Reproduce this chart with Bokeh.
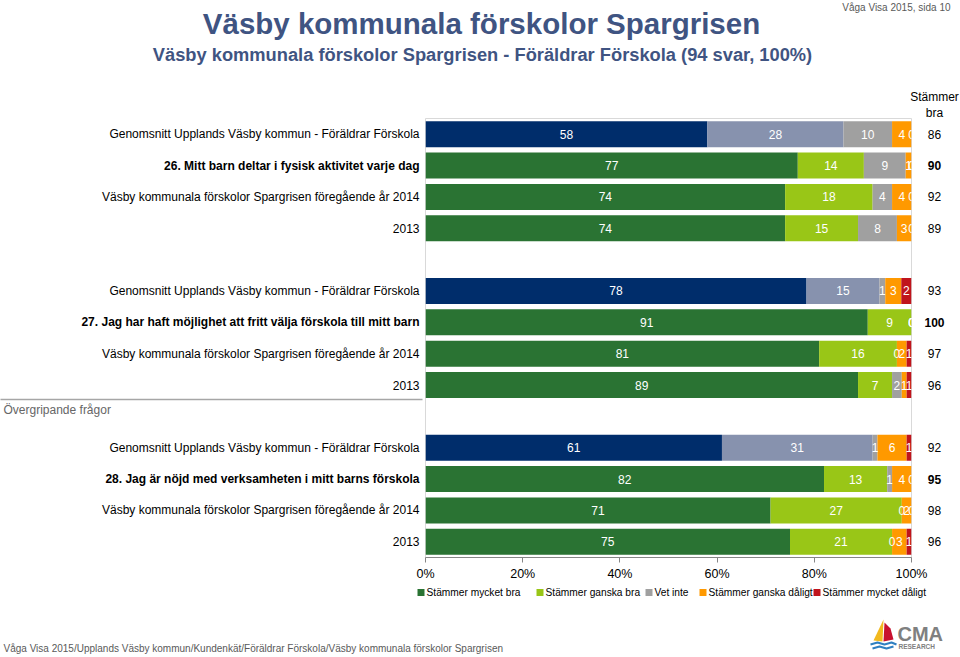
from bokeh.plotting import figure
from bokeh.models import Range1d, FixedTicker, PrintfTickFormatter, ColumnDataSource
from bokeh.core.properties import value
from bokeh.embed import file_html
from bokeh.resources import INLINE

# ---------------- data ----------------
row_labels = [
    "Genomsnitt Upplands Väsby kommun - Föräldrar Förskola",
    "26. Mitt barn deltar i fysisk aktivitet varje dag",
    "Väsby kommunala förskolor Spargrisen föregående år 2014",
    "2013",
    "Genomsnitt Upplands Väsby kommun - Föräldrar Förskola",
    "27. Jag har haft möjlighet att fritt välja förskola till mitt barn",
    "Väsby kommunala förskolor Spargrisen föregående år 2014",
    "2013",
    "Genomsnitt Upplands Väsby kommun - Föräldrar Förskola",
    "28. Jag är nöjd med verksamheten i mitt barns förskola",
    "Väsby kommunala förskolor Spargrisen föregående år 2014",
    "2013",
]
row_kinds = ["avg", "question", "prev", "prev"] * 3

categories = ["Stämmer mycket bra", "Stämmer ganska bra", "Vet inte",
              "Stämmer ganska dåligt", "Stämmer mycket dåligt"]
mycket_bra    = [58, 76.6, 74, 74, 78.4, 91, 81, 89, 61, 82, 71, 75]
ganska_bra    = [28, 13.6, 18, 15, 15.0,  9, 16,  7, 31, 13, 27, 21]
vet_inte      = [10,  8.6,  4,  8,  1.2,  0,  0,  2,  1,  1,  0,  0]
ganska_daligt = [ 4,  1.2,  4,  3,  3.3,  0,  2,  1,  6,  4,  2,  3]
mycket_daligt = [ 0,  0.0,  0,  0,  2.1,  0,  1,  1,  1,  0,  0,  1]
stammer_bra   = [86, 90, 92, 89, 93, 100, 97, 96, 92, 95, 98, 96]

tick_values = [0, 20, 40, 60, 80, 100]
title_text = "Väsby kommunala förskolor Spargrisen"
subtitle_text = "Väsby kommunala förskolor Spargrisen - Föräldrar Förskola (94 svar, 100%)"
page_note = "Våga Visa 2015, sida 10"
footer_text = ("Våga Visa 2015/Upplands Väsby kommun/Kundenkät/Föräldrar Förskola/"
               "Väsby kommunala förskolor Spargrisen")
group_label = "Övergripande frågor"
right_header = ["Stämmer", "bra"]

# ---------------- style ----------------
FONT = "Liberation Sans"
colors_school = ["#2A7333", "#99C617", "#A0A0A0", "#FF9900", "#C0141C"]
colors_avg = ["#002D6B", "#8792AE", "#A0A0A0", "#FF9900", "#C0141C"]
TITLE_COLOR = "#3F5482"
legend_x_px = [417, 536, 645, 699, 813]   # left edge of each legend swatch (page px)

W, H = 960, 657
FL, FR, FT, FB = 425, 911, 118, 557   # frame edges on the canvas

n_rows = len(row_labels)
slots = [(i // 4) * 5 + i % 4 for i in range(n_rows)]
n_slots = slots[-1] + 1


def xd(px):
    """canvas x pixel -> data x"""
    return (px - FL) / (FR - FL) * 100


def yd(py):
    """canvas y pixel -> data y"""
    return -0.5 + (py - FT) / (FB - FT) * n_slots


p = figure(width=W, height=H, output_backend="svg", toolbar_location=None,
           x_range=Range1d(0, 100), y_range=Range1d(n_slots - 0.5, -0.5),
           min_border_left=FL, min_border_right=W - FR,
           min_border_top=FT, min_border_bottom=H - FB,
           y_axis_location=None)
p.xgrid.visible = False
p.ygrid.visible = False
p.outline_line_color = "#D9D9D9"
p.background_fill_color = "white"
p.border_fill_color = "white"

series = [mycket_bra, ganska_bra, vet_inte, ganska_daligt, mycket_daligt]
keys = ["c0", "c1", "c2", "c3", "c4"]


def subset(pred):
    idx = [i for i, k in enumerate(row_kinds) if pred(k)]
    d = {"y": [slots[i] for i in idx]}
    for k, s in zip(keys, series):
        d[k] = [s[i] for i in idx]
    return ColumnDataSource(d)


r_avg = p.hbar_stack(keys, y="y", height=0.83, fill_color=colors_avg, line_color=None,
                     source=subset(lambda k: k == "avg"))
r_sch = p.hbar_stack(keys, y="y", height=0.83, fill_color=colors_school, line_color=None,
                     source=subset(lambda k: k != "avg"))

# segment value labels
lx, ly, lt = [], [], []
for i in range(n_rows):
    left = 0
    for s in series:
        v = s[i]
        lx.append(left + v / 2)
        ly.append(slots[i])
        lt.append(str(int(round(v))))
        left += v
p.text(x=lx, y=ly, text=lt, text_color="white", text_font=value(FONT),
       text_font_size="12px", text_align="center", text_baseline="middle")

# axis
ax = p.xaxis[0]
ax.ticker = FixedTicker(ticks=tick_values)
ax.formatter = PrintfTickFormatter(format="%d%%")
ax.minor_tick_line_color = None
ax.major_tick_in = 0
ax.major_tick_out = 5
ax.axis_line_color = "#868686"
ax.major_tick_line_color = "#868686"
ax.major_label_text_font = FONT
ax.major_label_text_font_size = "12.5px"
ax.major_label_text_color = "black"
ax.major_label_standoff = 4


def add_text(texts, xs, ys, size="12px", align="left", color="black", style="normal"):
    p.text(x=xs, y=ys, text=texts, text_font=value(FONT), text_font_size=size,
           text_align=align, text_baseline="middle", text_color=color,
           text_font_style=style, level="overlay")


# titles
add_text([title_text], [xd(481)], [yd(23)], size="29.5px", align="center",
         color=TITLE_COLOR, style="bold")
add_text([subtitle_text], [xd(482)], [yd(54)], size="18.3px", align="center",
         color=TITLE_COLOR, style="bold")
add_text([page_note], [xd(950)], [yd(7)], size="10px", align="right", color="#595959")

# row labels and "Stämmer bra" values
for style, pred in (("normal", lambda k: k != "question"), ("bold", lambda k: k == "question")):
    idx = [i for i in range(n_rows) if pred(row_kinds[i])]
    add_text([row_labels[i] for i in idx], [xd(419)] * len(idx), [slots[i] for i in idx],
             align="right", style=style)
    add_text([str(stammer_bra[i]) for i in idx], [xd(934)] * len(idx), [slots[i] for i in idx],
             align="center", style=style)
add_text(right_header, [xd(934)] * 2, [yd(96), yd(112)], align="center")

# group label + separator
add_text([group_label], [xd(3)], [yd(409)], size="12px", color="#666666")
p.line(x=[xd(0), xd(422)], y=[yd(399), yd(399)], line_color="#A6A6A6", line_width=1.5,
       level="overlay")

# legend (drawn below the axis)
leg_y = yd(592)
p.rect(x=[xd(x + 3.5) for x in legend_x_px], y=[leg_y] * 5, width=7, height=7,
       width_units="screen", height_units="screen", fill_color=colors_school,
       line_color=None, level="overlay")
add_text(categories, [xd(x + 9) for x in legend_x_px], [leg_y] * 5, size="10.2px")

# footer
add_text([footer_text], [xd(3)], [yd(648)], size="10px", color="#595959")

# logo (CMA Research)
p.patch(x=[xd(873), xd(883), xd(882)], y=[yd(640), yd(619), yd(641)],
        fill_color="#F2B91F", line_color=None, level="overlay")
p.patch(x=[xd(884), xd(890), xd(893), xd(883)], y=[yd(622), yd(628), yd(639), yd(641)],
        fill_color="#C8102E", line_color=None, level="overlay")
p.line(x=[xd(870), xd(877), xd(884), xd(891), xd(896)],
       y=[yd(644), yd(642), yd(644), yd(642), yd(644)], line_color="#2E7FC1", line_width=2,
       level="overlay")
p.line(x=[xd(872), xd(879), xd(886), xd(893)],
       y=[yd(648), yd(646), yd(648), yd(646)], line_color="#2E7FC1", line_width=2,
       level="overlay")
add_text(["CMA"], [xd(897)], [yd(633)], size="20px", color="#7F8080", style="bold")
add_text(["RESEARCH"], [xd(898)], [yd(646)], size="6.5px", color="#7F8080", style="bold")

open("out.html", "w").write(file_html(p, INLINE))
